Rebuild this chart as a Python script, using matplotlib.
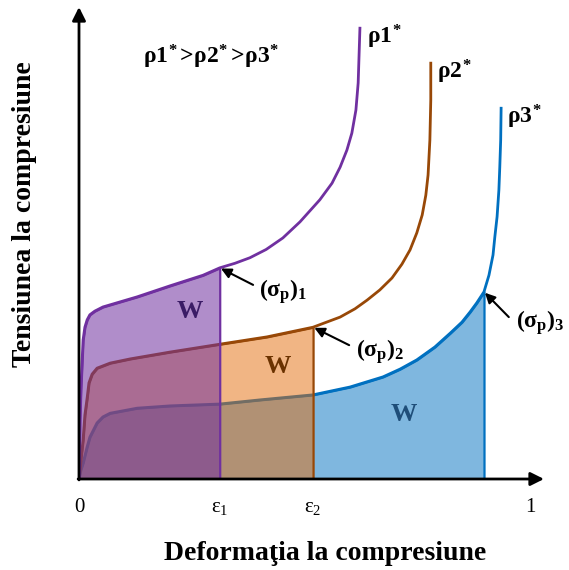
import matplotlib
matplotlib.use("Agg")
import matplotlib.pyplot as plt
import numpy as np

plt.rcParams["font.family"] = ["Liberation Serif", "DejaVu Serif"]
plt.rcParams["mathtext.fontset"] = "custom"
plt.rcParams["mathtext.rm"] = "Liberation Serif"
plt.rcParams["mathtext.it"] = "Liberation Serif:italic"
plt.rcParams["mathtext.bf"] = "Liberation Serif:bold"

# Stress-strain curves for three relative densities (normalised units)
strain_1 = np.array([0, 0.001, 0.002, 0.004, 0.007, 0.009, 0.013, 0.018, 0.024, 0.035,
                     0.053, 0.091, 0.129, 0.202, 0.275, 0.312, 0.346, 0.379, 0.415,
                     0.452, 0.490, 0.534, 0.561, 0.579, 0.594, 0.605, 0.614, 0.619,
                     0.621, 0.623])
stress_1 = np.array([0, 0.063, 0.128, 0.193, 0.259, 0.302, 0.330, 0.346, 0.357, 0.365,
                     0.374, 0.385, 0.396, 0.420, 0.443, 0.459, 0.469, 0.481, 0.499,
                     0.524, 0.559, 0.607, 0.643, 0.678, 0.715, 0.752, 0.802, 0.861,
                     0.922, 0.983])

strain_2 = np.array([0, 0.004, 0.009, 0.013, 0.018, 0.022, 0.029, 0.040, 0.069, 0.113,
                     0.202, 0.312, 0.417, 0.519, 0.579, 0.612, 0.639, 0.667, 0.694,
                     0.716, 0.734, 0.749, 0.761, 0.769, 0.774, 0.778, 0.780, 0.780])
stress_2 = np.array([0, 0.041, 0.085, 0.139, 0.176, 0.209, 0.228, 0.241, 0.252, 0.261,
                     0.276, 0.293, 0.309, 0.330, 0.352, 0.370, 0.389, 0.411, 0.437,
                     0.467, 0.498, 0.535, 0.574, 0.617, 0.661, 0.737, 0.824, 0.907])

strain_3 = np.array([0, 0.004, 0.009, 0.018, 0.024, 0.040, 0.053, 0.069, 0.129, 0.202,
                     0.312, 0.401, 0.519, 0.601, 0.674, 0.712, 0.749, 0.789, 0.823,
                     0.849, 0.867, 0.882, 0.898, 0.909, 0.918, 0.922, 0.927, 0.931,
                     0.933, 0.935, 0.936])
stress_3 = np.array([0, 0.020, 0.035, 0.070, 0.091, 0.122, 0.135, 0.143, 0.154, 0.159,
                     0.163, 0.172, 0.183, 0.200, 0.222, 0.239, 0.259, 0.287, 0.317,
                     0.341, 0.363, 0.383, 0.407, 0.443, 0.487, 0.526, 0.570, 0.628,
                     0.678, 0.737, 0.809])

# Densification strains (end of the absorbed-energy area W)
eps_d = [0.312, 0.519, 0.898]
tick_pos = [0, eps_d[0], eps_d[1], 1.0]
tick_labels = ["0", r"$\mathrm{ε_1}$", r"$\mathrm{ε_2}$", "1"]

line_colors = ["#7030A0", "#984807", "#0070C0"]
fill_colors = [(112/255, 48/255, 160/255, 0.55),
               (228/255, 108/255, 10/255, 0.5),
               (0/255, 112/255, 192/255, 0.5)]
w_colors = ["#3B1C66", "#6B3200", "#1F4E79"]

fig = plt.figure(figsize=(5.69, 5.70), dpi=100)
ax = fig.add_axes([79/569, 91/570, 451/569, 460/570])
ax.set_xlim(0, 1)
ax.set_ylim(0, 1)
for s in ax.spines.values():
    s.set_visible(False)

curves = [(strain_1, stress_1), (strain_2, stress_2), (strain_3, stress_3)]
# draw from lowest density upward so the denser curve's area sits on top
for i in [2, 1, 0]:
    x, y = curves[i]
    m = x <= eps_d[i] + 1e-9
    ax.fill_between(x[m], 0, y[m], facecolor=fill_colors[i],
                    edgecolor=line_colors[i], linewidth=1.6, zorder=2 + 2 * (2 - i))
    ax.plot(x, y, color=line_colors[i], lw=2, zorder=3 + 2 * (2 - i),
            solid_capstyle="butt", solid_joinstyle="round")

# axes with arrows
ax.annotate("", xy=(1.031, 0), xytext=(-0.002, 0),
            arrowprops=dict(arrowstyle="-|>", color="black", lw=2, mutation_scale=20,
                            shrinkA=0, shrinkB=0), annotation_clip=False, zorder=10)
ax.annotate("", xy=(0, 1.026), xytext=(0, -0.002),
            arrowprops=dict(arrowstyle="-|>", color="black", lw=2, mutation_scale=20,
                            shrinkA=0, shrinkB=0), annotation_clip=False, zorder=10)

ax.set_xticks(tick_pos)
ax.set_xticklabels(tick_labels, fontsize=15)
ax.set_yticks([])
ax.tick_params(axis="x", length=0, pad=14)

# W labels
w_pos = [(0.245, 0.365), (0.44, 0.245), (0.72, 0.14)]
for (wx, wy), c in zip(w_pos, w_colors):
    ax.text(wx, wy, "W", color=c, fontsize=19, fontweight="bold",
            ha="center", va="center", zorder=12)

# plateau-end stress annotations
sigma_text = [r"$\mathbf{(σ_p)_1}$", r"$\mathbf{(σ_p)_2}$", r"$\mathbf{(σ_p)_3}$"]
sigma_pts = [(eps_d[0], stress_1[15]), (eps_d[1], stress_2[13]), (eps_d[2], stress_3[22])]
tail_pts = [(0.386, 0.422), (0.599, 0.291), (0.953, 0.352)]
text_pts = [(0.400, 0.408), (0.615, 0.278), (0.968, 0.340)]
for t, p, tp, txt in zip(sigma_text, sigma_pts, tail_pts, text_pts):
    ax.annotate("", xy=p, xytext=tp,
                arrowprops=dict(arrowstyle="-|>", color="black", lw=1.5,
                                mutation_scale=15, shrinkA=0, shrinkB=1),
                annotation_clip=False, zorder=13)
    ax.text(txt[0], txt[1], t, fontsize=17, ha="left", va="center", zorder=13)

# density labels at the curve ends
rho_text = [r"$\mathbf{ρ1^{\!*}}$", r"$\mathbf{ρ2^{\!*}}$", r"$\mathbf{ρ3^{\!*}}$"]
rho_pos = [(0.638, 0.962), (0.794, 0.885), (0.949, 0.787)]
for t, (rx, ry) in zip(rho_text, rho_pos):
    ax.text(rx, ry, t, fontsize=17, ha="left", va="center", zorder=13)

ax.text(0.143, 0.917, r"$\mathbf{ρ1^{\!*}\!>\!ρ2^{\!*}\!>\!ρ3^{\!*}}$", fontsize=17,
        ha="left", va="center", zorder=13)

fig.text(325/569, 1 - 553/570, "Deformaţia la compresiune", fontsize=20,
         fontweight="bold", ha="center", va="center")
fig.text(25/569, 1 - 214/570, "Tensiunea la compresiune", fontsize=20,
         fontweight="bold", ha="center", va="center", rotation=90)

fig.savefig("out.png", dpi=100)
